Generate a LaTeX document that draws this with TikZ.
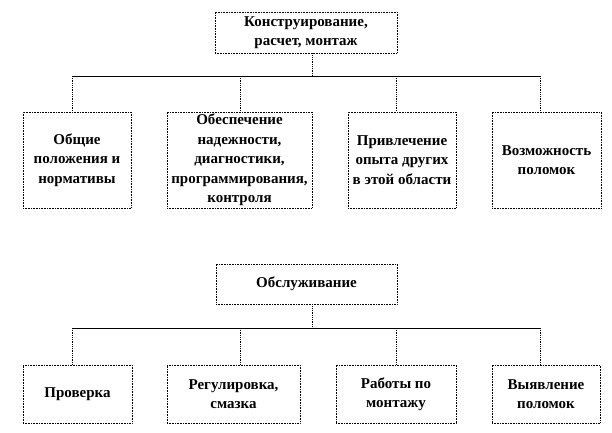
\documentclass[tikz,border=0pt]{standalone}
\usepackage{fontspec}
\setmainfont{Liberation Serif}
\begin{document}
\begin{tikzpicture}[x=1pt,y=-1pt,
  box/.style={draw=black, densely dotted, line width=0.6pt, align=center, inner sep=1pt,
    font=\bfseries\fontsize{15}{19.5}\selectfont, text=black},
  bus/.style={draw=black, line width=0.8pt},
  stem/.style={draw=black, densely dotted, line width=0.8pt}]
\useasboundingbox (0,0) rectangle (612,432);
% top group
\node[box, minimum width=182pt, minimum height=41pt] (T1) at (306,32.5) {Конструирование,\\расчет, монтаж};
\node[box, minimum width=108pt, minimum height=96pt] (A1) at (77,160) {Общие\\положения и\\нормативы};
\node[box, minimum width=145pt, minimum height=96pt] (A2) at (239.5,160) {Обеспечение\\надежности,\\диагностики,\\программирования,\\контроля};
\node[box, minimum width=108pt, minimum height=96pt] (A3) at (402,160) {Привлечение\\опыта других\\в этой области};
\node[box, minimum width=109pt, minimum height=96pt] (A4) at (546.5,160) {Возможность\\поломок};
\coordinate (h0) at (312,76);
\coordinate (h1) at (72,76);
\coordinate (h2) at (240,76);
\coordinate (h3) at (396,76);
\coordinate (h4) at (540,76);
\draw[stem] (h0 |- T1.south) -- (h0);
\draw[bus] (h1) -- (h4);
\draw[stem] (h1) -- (h1 |- A1.north);
\draw[stem] (h2) -- (h2 |- A2.north);
\draw[stem] (h3) -- (h3 |- A3.north);
\draw[stem] (h4) -- (h4 |- A4.north);
% bottom group
\node[box, minimum width=181pt, minimum height=40pt] (T2) at (306.5,284) {Обслуживание};
\node[box, minimum width=109pt, minimum height=58pt] (B1) at (77.5,394) {Проверка};
\node[box, minimum width=133pt, minimum height=58pt] (B2) at (233.5,394) {Регулировка,\\смазка};
\node[box, minimum width=120pt, minimum height=58pt] (B3) at (396,394) {Работы по\\монтажу};
\node[box, minimum width=108pt, minimum height=58pt] (B4) at (546,394) {Выявление\\поломок};
\coordinate (g0) at (312,328);
\coordinate (g1) at (72,328);
\coordinate (g2) at (240,328);
\coordinate (g3) at (396,328);
\coordinate (g4) at (540,328);
\draw[stem] (g0 |- T2.south) -- (g0);
\draw[bus] (g1) -- (g4);
\draw[stem] (g1) -- (g1 |- B1.north);
\draw[stem] (g2) -- (g2 |- B2.north);
\draw[stem] (g3) -- (g3 |- B3.north);
\draw[stem] (g4) -- (g4 |- B4.north);
\end{tikzpicture}
\end{document}
